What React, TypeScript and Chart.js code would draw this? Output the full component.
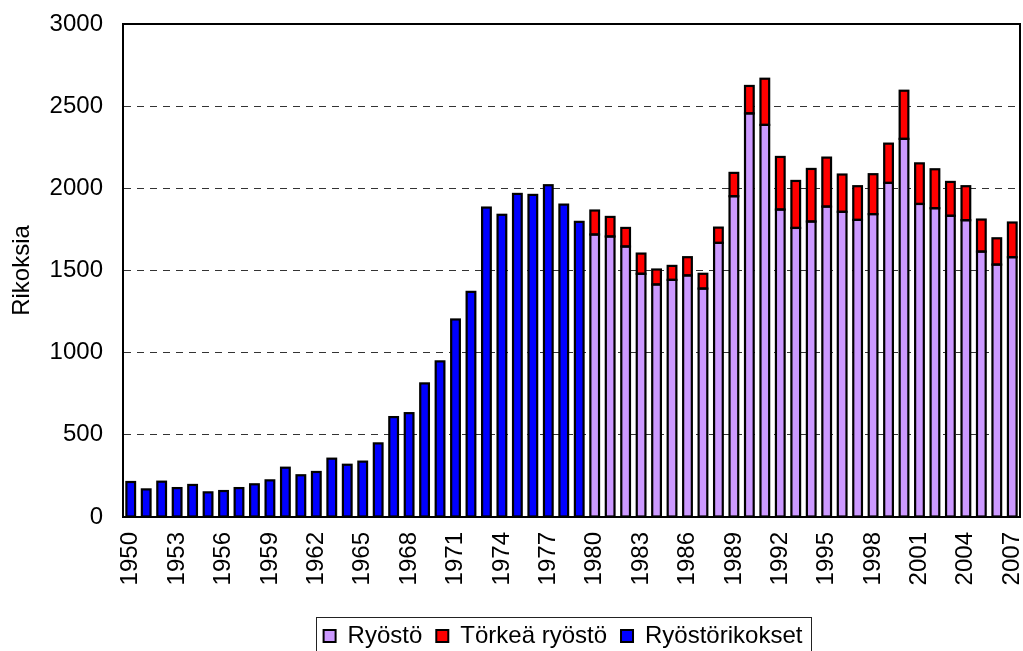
import React, { useEffect, useRef } from 'react';
import { Chart, registerables } from 'chart.js';

Chart.register(...registerables);

const years = [
  '1950', '1951', '1952', '1953', '1954', '1955', '1956', '1957', '1958', '1959',
  '1960', '1961', '1962', '1963', '1964', '1965', '1966', '1967', '1968', '1969',
  '1970', '1971', '1972', '1973', '1974', '1975', '1976', '1977', '1978', '1979',
  '1980', '1981', '1982', '1983', '1984', '1985', '1986', '1987', '1988', '1989',
  '1990', '1991', '1992', '1993', '1994', '1995', '1996', '1997', '1998', '1999',
  '2000', '2001', '2002', '2003', '2004', '2005', '2006', '2007',
];

// Ryöstörikokset, 1950–1979
const ryostorikokset = [
  213, 168, 215, 176, 195, 150, 158, 176, 199, 223,
  300, 254, 274, 355, 318, 337, 448, 608, 632, 813,
  947, 1202, 1370, 1883, 1839, 1966, 1960, 2019, 1901, 1796,
];

// Ryöstö, 1980–2007
const ryosto = [
  1719, 1707, 1646, 1480, 1415, 1443, 1470, 1390, 1668, 1952,
  2456, 2386, 1871, 1759, 1798, 1889, 1857, 1808, 1843, 2033,
  2301, 1905, 1879, 1833, 1806, 1615, 1536, 1581,
];

// Törkeä ryöstö, 1980–2007
const torkeaRyosto = [
  146, 119, 113, 123, 91, 85, 111, 90, 93, 142,
  167, 281, 320, 286, 320, 298, 227, 205, 243, 239,
  293, 247, 237, 206, 207, 195, 160, 211,
];

const yTicks = [0, 500, 1000, 1500, 2000, 2500, 3000];

const FONT = "'Liberation Sans', Arial, Helvetica, sans-serif";
const W = 1023;
const H = 658;
const LEGEND_CENTER_X = 563;
const BAR_OUTLINE = 2.2;

export default function App() {
  const ref = useRef<HTMLCanvasElement>(null);

  useEffect(() => {
    const canvas = ref.current;
    if (!canvas) return;
    const startLate = years.length - ryosto.length;

    const framePlugin = {
      id: 'frameAndOutlines',
      afterLayout(chart: any) {
        const lg = chart.legend;
        if (!lg) return;
        const shift = LEGEND_CENTER_X - (lg.left + lg.right) / 2;
        lg.left += shift;
        lg.right += shift;
      },
      afterDatasetsDraw(chart: any) {
        const ctx = chart.ctx;
        ctx.save();
        ctx.strokeStyle = '#000';
        ctx.lineWidth = BAR_OUTLINE;
        chart.data.datasets.forEach((ds: any, di: number) => {
          const meta = chart.getDatasetMeta(di);
          meta.data.forEach((el: any, i: number) => {
            if (ds.data[i] == null) return;
            const p = el.getProps(['x', 'y', 'base', 'width'], true);
            const top = Math.min(p.y, p.base);
            const h = Math.abs(p.base - p.y);
            ctx.strokeRect(p.x - p.width / 2, top, p.width, h);
          });
        });
        ctx.restore();
      },
      afterDraw(chart: any) {
        const { ctx, chartArea: a } = chart;
        ctx.save();
        ctx.strokeStyle = '#000';
        ctx.lineWidth = 2;
        ctx.beginPath();
        ctx.moveTo(a.left, a.top);
        ctx.lineTo(a.right, a.top);
        ctx.lineTo(a.right, a.bottom);
        ctx.stroke();
        const hb = chart.legend && chart.legend.legendHitBoxes;
        if (hb && hb.length) {
          const first = hb[0];
          const last = hb[hb.length - 1];
          const x1 = first.left - 8;
          const x2 = last.left + last.width + 8;
          const y1 = first.top - 7;
          ctx.strokeStyle = '#222';
          ctx.lineWidth = 1;
          ctx.strokeRect(Math.round(x1) + 0.5, Math.round(y1) + 0.5, Math.round(x2 - x1), 60);
        }
        ctx.restore();
      },
    };

    const barStyle = {
      borderWidth: 0,
      borderSkipped: false,
      inflateAmount: 0,
    };

    const chart = new Chart(canvas, {
      type: 'bar',
      data: {
        labels: years,
        datasets: [
          {
            label: 'Ryöstö',
            data: years.map((_, i) => (i >= startLate ? ryosto[i - startLate] : null)),
            backgroundColor: '#CC99FF',
            ...barStyle,
          },
          {
            label: 'Törkeä ryöstö',
            data: years.map((_, i) => (i >= startLate ? torkeaRyosto[i - startLate] : null)),
            backgroundColor: '#FF0000',
            ...barStyle,
          },
          {
            label: 'Ryöstörikokset',
            data: years.map((_, i) => (i < ryostorikokset.length ? ryostorikokset[i] : null)),
            backgroundColor: '#0000FF',
            ...barStyle,
          },
        ],
      },
      options: {
        responsive: false,
        animation: false,
        devicePixelRatio: 1,
        layout: { padding: { top: 24, right: 3, left: 0, bottom: 0 } },
        datasets: { bar: { barPercentage: 0.562, categoryPercentage: 1 } },
        scales: {
          x: {
            stacked: true,
            grid: { display: false },
            border: { display: true, color: '#000', width: 2 },
            ticks: {
              autoSkip: false,
              minRotation: 90,
              maxRotation: 90,
              padding: 7,
              color: '#000',
              font: { family: FONT, size: 24 },
              callback: (_v: any, i: number) => (i % 3 === 0 ? years[i] : ''),
            },
            afterFit: (s: any) => {
              s.height = 93;
              s.paddingLeft = 0;
              s.paddingRight = 0;
            },
          },
          y: {
            stacked: true,
            min: yTicks[0],
            max: yTicks[yTicks.length - 1],
            afterBuildTicks: (s: any) => {
              s.ticks = yTicks.map((v) => ({ value: v }));
            },
            ticks: {
              padding: 20,
              color: '#000',
              font: { family: FONT, size: 24 },
              callback: (v: any) => String(v),
            },
            grid: {
              color: '#333',
              lineWidth: 1,
              drawTicks: false,
            },
            border: { color: '#000', width: 2, dash: [7, 6] },
            title: {
              display: true,
              text: 'Rikoksia',
              color: '#000',
              font: { family: FONT, size: 24 },
              padding: { top: 8, bottom: 0 },
            },
            afterFit: (s: any) => {
              s.width = 123;
              s.paddingTop = 0;
              s.paddingBottom = 0;
            },
          },
        },
        plugins: {
          legend: {
            position: 'bottom',
            labels: {
              boxWidth: 12,
              boxHeight: 12,
              padding: 14,
              color: '#000',
              font: { family: FONT, size: 24 },
              generateLabels: (chart: any) =>
                Chart.defaults.plugins.legend.labels
                  .generateLabels(chart)
                  .map((it: any) => ({ ...it, strokeStyle: '#000', lineWidth: 2 })),
            },
          },
          tooltip: { enabled: false },
        },
      } as any,
      plugins: [framePlugin],
    });

    return () => chart.destroy();
  }, []);

  return (
    <div
      style={{
        position: 'fixed',
        left: 0,
        top: 0,
        width: W,
        height: 651,
        overflow: 'hidden',
        background: '#fff',
      }}
    >
      <canvas ref={ref} width={W} height={H} style={{ display: 'block', width: W, height: H }} />
    </div>
  );
}
